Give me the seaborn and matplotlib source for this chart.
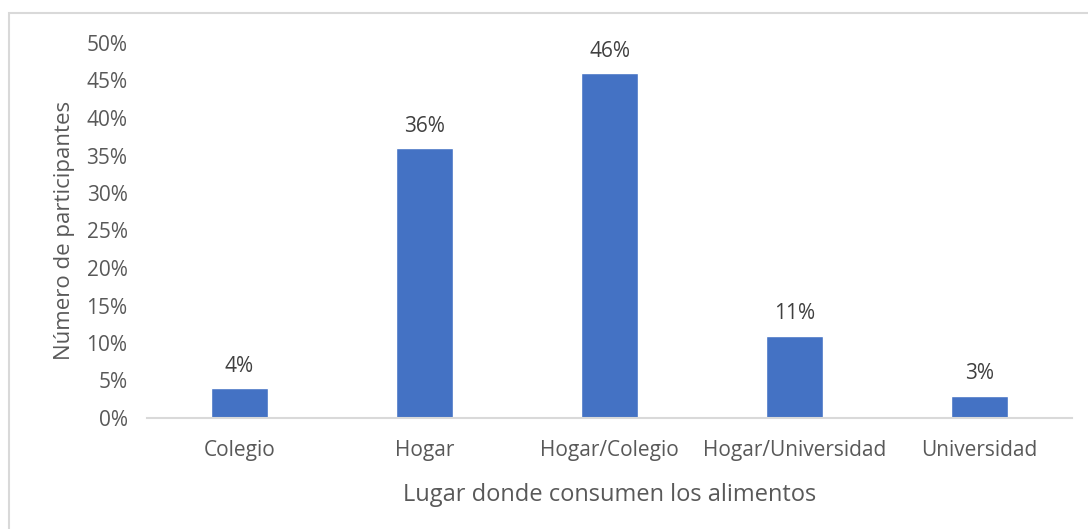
import matplotlib
matplotlib.use('Agg')
import matplotlib.pyplot as plt
import seaborn as sns
import pandas as pd
from matplotlib.patches import Rectangle
from matplotlib.ticker import FuncFormatter

lugares = ['Colegio', 'Hogar', 'Hogar/Colegio', 'Hogar/Universidad', 'Universidad']
porcentajes = [4, 36, 46, 11, 3]
etiquetas = ['4%', '36%', '46%', '11%', '3%']

df = pd.DataFrame({'lugar': lugares, 'pct': porcentajes})

sns.set_style('white')
plt.rcParams['font.family'] = ['Open Sans', 'DejaVu Sans']
gris = '#595959'

fig = plt.figure(figsize=(10.88, 5.29), dpi=100)
ax = fig.add_axes([147/1088, 1 - 418/529, 925/1088, 375/529])

sns.barplot(x='lugar', y='pct', data=df, color='#4472C4', width=0.31,
            saturation=1, ax=ax)

for i, (v, t) in enumerate(zip(porcentajes, etiquetas)):
    ax.text(i, v + 1.5, t, ha='center', va='bottom', fontsize=15, color='#404040')

ax.set_ylim(0, 50)
ax.set_yticks(range(0, 51, 5))
ax.yaxis.set_major_formatter(FuncFormatter(lambda v, p: f'{int(v)}%'))
ax.set_xlim(-0.5, 4.5)
ax.tick_params(axis='both', labelsize=15, colors=gris, length=0)
ax.tick_params(axis='x', pad=16)
ax.tick_params(axis='y', pad=14)
for s in ['top', 'right', 'left']:
    ax.spines[s].set_visible(False)
ax.spines['bottom'].set_color('#d9d9d9')
ax.spines['bottom'].set_linewidth(1.5)
ax.set_xlabel('Lugar donde consumen los alimentos', fontsize=17, color=gris, labelpad=16)
ax.set_ylabel('Número de participantes', fontsize=16, color=gris, labelpad=8)

fig.patches.append(Rectangle((9/1088, -0.1), 1.2, 1 - 13/529 + 0.1,
                             transform=fig.transFigure, fill=False,
                             edgecolor='#d9d9d9', linewidth=1.5))

fig.savefig('out.png', dpi=100)
